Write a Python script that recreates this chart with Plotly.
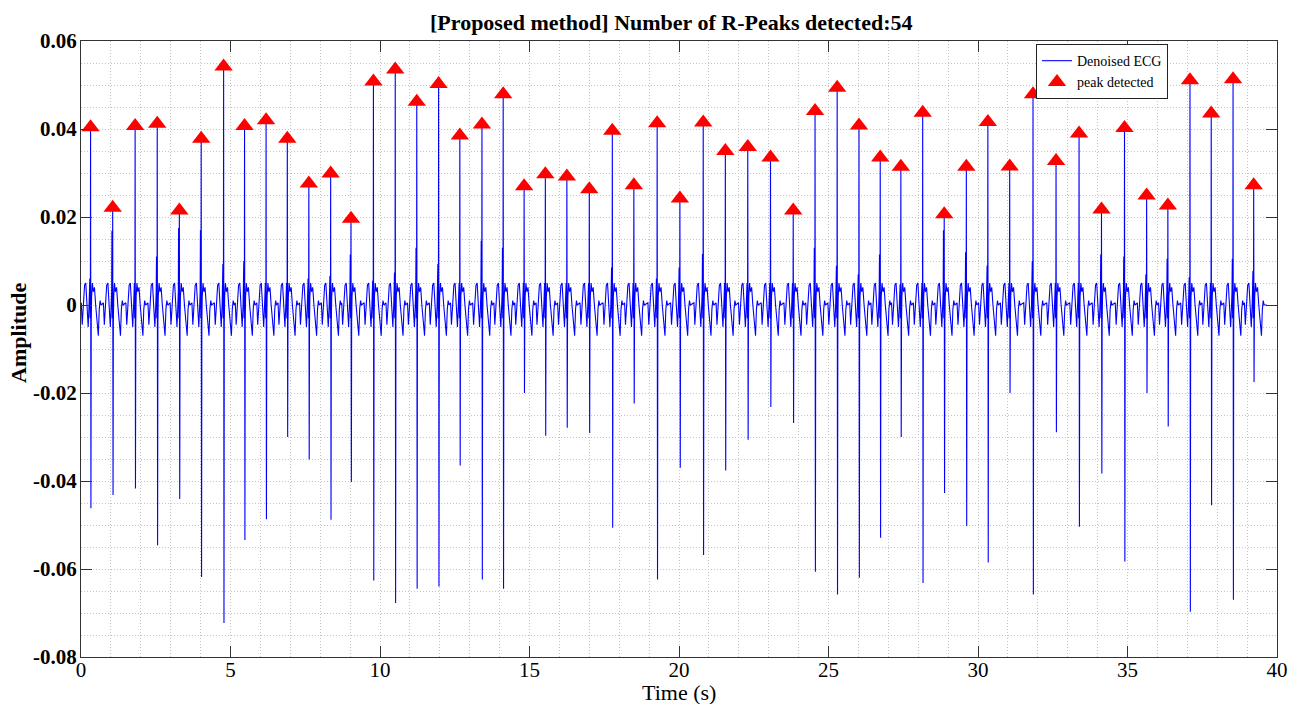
import plotly.graph_objects as go

# ---------------- data ----------------
# R-peak times (s) and amplitudes
r_times = [0.32, 1.06, 1.81, 2.55, 3.29, 4.02, 4.77, 5.47, 6.19, 6.90,
           7.62, 8.35, 9.03, 9.78, 10.51, 11.23, 11.96, 12.67, 13.41, 14.12,
           14.82, 15.53, 16.25, 17.00, 17.77, 18.49, 19.27, 20.03, 20.81, 21.55,
           22.30, 23.06, 23.82, 24.55, 25.29, 26.02, 26.73, 27.42, 28.15, 28.87,
           29.61, 30.33, 31.06, 31.84, 32.61, 33.38, 34.13, 34.90, 35.64, 36.35,
           37.09, 37.80, 38.53, 39.22]
r_peaks = [0.0404, 0.0221, 0.0407, 0.0412, 0.0215, 0.0378, 0.0542, 0.0407, 0.0420, 0.0378,
           0.0276, 0.0299, 0.0196, 0.0508, 0.0535, 0.0462, 0.0502, 0.0385, 0.0410, 0.0479,
           0.0270, 0.0297, 0.0292, 0.0263, 0.0396, 0.0272, 0.0413, 0.0242, 0.0415, 0.0350,
           0.0359, 0.0335, 0.0215, 0.0441, 0.0494, 0.0408, 0.0335, 0.0314, 0.0437, 0.0206,
           0.0314, 0.0416, 0.0315, 0.0479, 0.0327, 0.0390, 0.0217, 0.0402, 0.0249, 0.0226,
           0.0511, 0.0435, 0.0513, 0.0272]
# S-wave troughs following each R peak
s_troughs = [-0.0462, -0.0432, -0.0417, -0.0546, -0.0441, -0.0618, -0.0723, -0.0534, -0.0487, -0.0300,
             -0.0351, -0.0488, -0.0402, -0.0626, -0.0677, -0.0645, -0.0640, -0.0365, -0.0624, -0.0645,
             -0.0200, -0.0297, -0.0279, -0.0291, -0.0506, -0.0224, -0.0624, -0.0370, -0.0568, -0.0376,
             -0.0306, -0.0232, -0.0268, -0.0606, -0.0658, -0.0620, -0.0529, -0.0300, -0.0632, -0.0427,
             -0.0502, -0.0585, -0.0200, -0.0658, -0.0289, -0.0504, -0.0383, -0.0583, -0.0200, -0.0276,
             -0.0697, -0.0455, -0.0670, -0.0175]
# small secondary spike just before each R peak
pre_spikes = [0.0060, 0.0169, 0.0050, 0.0110, 0.0175, 0.0170, 0.0093, 0.0100, 0.0050, 0.0050,
              0.0060, 0.0066, 0.0115, 0.0055, 0.0074, 0.0130, 0.0093, 0.0050, 0.0146, 0.0130,
              0.0050, 0.0050, 0.0050, 0.0050, 0.0085, 0.0050, 0.0060, 0.0085, 0.0116, 0.0050,
              0.0050, 0.0050, 0.0050, 0.0130, 0.0089, 0.0070, 0.0115, 0.0047, 0.0050, 0.0170,
              0.0120, 0.0090, 0.0050, 0.0100, 0.0050, 0.0050, 0.0115, 0.0110, 0.0070, 0.0105,
              0.0063, 0.0050, 0.0105, 0.0077]
# beat morphology around each R peak (time offset in s, amplitude); 'pre','R','S' use per-beat arrays
beat_offsets = [-0.31, -0.28, -0.24, -0.20, -0.16, -0.12, -0.08, -0.05, -0.035, -0.025,
                -0.015, -0.006, 0.0, 0.012, 0.022, 0.035, 0.06, 0.09, 0.13, 0.17,
                0.21, 0.26, 0.29, 0.32, 0.35]
beat_shape = [0.0005, -0.0045, 0.0000, 0.0045, 0.0050, 0.0010, -0.0050, 0.0000, 0.0030, 'pre',
              -0.0030, 0.0010, 'R', 'S', -0.0040, 0.0020, 0.0050, 0.0030, 0.0040, 0.0000,
              -0.0030, -0.0070, -0.0010, 0.0010, 0.0000]
trace_start = (0.0, 0.0)
trace_end = (39.66, 0.0)

x_tick_vals = [0, 5, 10, 15, 20, 25, 30, 35, 40]
x_tick_text = ["0", "5", "10", "15", "20", "25", "30", "35", "40"]
y_tick_vals = [0.06, 0.04, 0.02, 0.0, -0.02, -0.04, -0.06, -0.08]
y_tick_text = ["0.06", "0.04", "0.02", "0", "-0.02", "-0.04", "-0.06", "-0.08"]

title_text = "[Proposed method] Number of R-Peaks detected:54"

# ---------------- build ECG trace ----------------
ecg_t = [trace_start[0]]
ecg_v = [trace_start[1]]
for i, tr in enumerate(r_times):
    for off, val in zip(beat_offsets, beat_shape):
        if val == 'R':
            v = r_peaks[i]
        elif val == 'S':
            v = s_troughs[i]
        elif val == 'pre':
            v = pre_spikes[i]
        else:
            v = val
        t = tr + off
        if t < 0:
            continue
        ecg_t.append(t)
        ecg_v.append(v)
ecg_t.append(trace_end[0])
ecg_v.append(trace_end[1])

SERIF = "Liberation Serif, Times New Roman, serif"

fig = go.Figure()
fig.add_trace(go.Scatter(
    x=ecg_t, y=ecg_v, mode="lines", name="Denoised ECG",
    line=dict(color="#0000FF", width=1.1),
))
fig.add_trace(go.Scatter(
    x=r_times, y=r_peaks, mode="markers", name="peak detected",
    marker=dict(symbol="triangle-up", size=16, color="#FF0000", line=dict(width=0)),
))

grid_col = "#c4c4c4"
grid_dash = "1px,2px"
fig.update_layout(
    width=1301, height=704,
    margin=dict(l=81, r=24, t=41, b=47),
    paper_bgcolor="white", plot_bgcolor="white",
    showlegend=True,
    legend=dict(
        x=0.7985, y=0.995, xanchor="left", yanchor="top",
        bgcolor="white", bordercolor="#222222", borderwidth=1,
        font=dict(family=SERIF, size=14, color="black"),
        tracegroupgap=0,
    ),
    xaxis=dict(
        range=[0, 40], tickmode="array", tickvals=x_tick_vals, ticktext=x_tick_text,
        ticks="inside", ticklen=11, tickcolor="#333333", tickwidth=1,
        showline=True, linecolor="#333333", linewidth=1, mirror="ticks",
        showgrid=True, gridcolor=grid_col, griddash=grid_dash, gridwidth=1,
        minor=dict(dtick=1, tick0=0, showgrid=True, gridcolor=grid_col, griddash=grid_dash, ticks=""),
        zeroline=False, ticklabelstandoff=-6,
        tickfont=dict(family=SERIF, size=21, color="black"),
    ),
    yaxis=dict(
        range=[-0.08, 0.06], tickmode="array", tickvals=y_tick_vals, ticktext=y_tick_text,
        ticks="inside", ticklen=11, tickcolor="#333333", tickwidth=1,
        showline=True, linecolor="#333333", linewidth=1, mirror="ticks",
        showgrid=True, gridcolor=grid_col, griddash=grid_dash, gridwidth=1,
        minor=dict(dtick=0.005, tick0=0, showgrid=True, gridcolor=grid_col, griddash=grid_dash, ticks=""),
        zeroline=False, ticklabelstandoff=-1,
        tickfont=dict(family=SERIF, size=21, color="black", weight="bold"),
    ),
    annotations=[
        dict(text="<b>" + title_text + "</b>", xref="paper", yref="paper",
             x=(671 - 81) / 1196, y=(657 - 23) / 616, xanchor="center", yanchor="middle",
             showarrow=False, font=dict(family=SERIF, size=22, color="black")),
        dict(text="Time (s)", xref="paper", yref="paper",
             x=(679 - 81) / 1196, y=-(692 - 657) / 616, xanchor="center", yanchor="middle",
             showarrow=False, font=dict(family=SERIF, size=22, color="black")),
        dict(text="<b>Amplitude</b>", xref="paper", yref="paper", textangle=-90,
             x=(18 - 81) / 1196, y=(657 - 333) / 616, xanchor="center", yanchor="middle",
             showarrow=False, font=dict(family=SERIF, size=22, color="black")),
    ],
)

fig.write_html("out.html", config={"displayModeBar": False})
